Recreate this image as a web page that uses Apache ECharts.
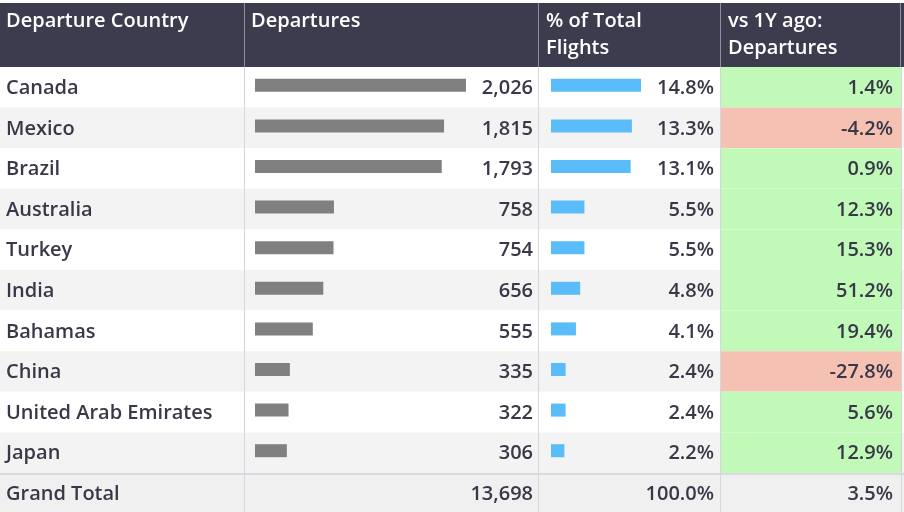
<!DOCTYPE html>
<html>
<head>
<meta charset="utf-8">
<script src="https://cdn.jsdelivr.net/npm/echarts@6/dist/echarts.min.js"></script>
<style>
html, body { margin: 0; padding: 0; background: #fff; }
#myChart { width: 904px; height: 512px; }
</style>
</head>
<body>
<div id="myChart"></div>
<script>
// table data
var countries = ['Canada', 'Mexico', 'Brazil', 'Australia', 'Turkey', 'India', 'Bahamas', 'China', 'United Arab Emirates', 'Japan'];
var departures = [2026, 1815, 1793, 758, 754, 656, 555, 335, 322, 306];
var shareOfTotal = [14.8, 13.3, 13.1, 5.5, 5.5, 4.8, 4.1, 2.4, 2.4, 2.2];
var vsLastYear = [1.4, -4.2, 0.9, 12.3, 15.3, 51.2, 19.4, -27.8, 5.6, 12.9];
var headers = ['Departure Country', 'Departures', '% of Total\nFlights', 'vs 1Y ago:\nDepartures'];
var totalLabel = 'Grand Total';
var totals = [13698, 100.0, 3.5];

var textColor = '#393848';
var bodyFont = '600 20px "Open Sans", sans-serif';
var headFont = '600 20px "Open Sans", sans-serif';

function fmtNum(v) { return v.toLocaleString('en-US'); }
function fmtPct(v) { return v.toFixed(1) + '%'; }

var myChart = echarts.init(document.getElementById('myChart'));

var rowTop = 67, rowsHeight = 406;

var option = {
	animation: false,
	grid: [
		{ left: 0, top: rowTop, width: 904, height: rowsHeight },
		{ left: 255, top: rowTop - 2, width: 211, height: rowsHeight },
		{ left: 551, top: rowTop - 2, width: 90, height: rowsHeight }
	],
	xAxis: [
		{ gridIndex: 0, type: 'value', min: 0, max: 904, show: false },
		{ gridIndex: 1, type: 'value', min: 0, max: 2026, show: false },
		{ gridIndex: 2, type: 'value', min: 0, max: 14.8, show: false }
	],
	yAxis: [
		{ gridIndex: 0, type: 'category', data: countries, inverse: true, show: false },
		{ gridIndex: 1, type: 'category', data: countries, inverse: true, show: false },
		{ gridIndex: 2, type: 'category', data: countries, inverse: true, show: false }
	],
	series: [
		{
			// row cells: backgrounds and texts
			type: 'custom',
			xAxisIndex: 0,
			yAxisIndex: 0,
			z: 1,
			data: countries.map(function (c, i) { return [0, i]; }),
			renderItem: function (params, api) {
				var i = params.dataIndex;
				var yc = api.coord([0, i])[1];
				var h = api.size([0, 1])[1];
				var y0 = yc - h / 2;
				var ty = yc + 1;
				var yoy = vsLastYear[i];
				return {
					type: 'group',
					children: [
						{ type: 'rect', shape: { x: 0, y: y0, width: 904, height: h },
						  style: { fill: i % 2 ? '#f3f3f3' : '#ffffff' } },
						{ type: 'rect', shape: { x: 721, y: y0, width: 180, height: h },
						  style: { fill: yoy < 0 ? '#f5c1b3' : '#c1f9b8' } },
						{ type: 'text', x: 6, y: ty, style: { text: countries[i], fill: textColor,
						  font: bodyFont, verticalAlign: 'middle', align: 'left' } },
						{ type: 'text', x: 533, y: ty, style: { text: fmtNum(departures[i]), fill: textColor,
						  font: bodyFont, verticalAlign: 'middle', align: 'right' } },
						{ type: 'text', x: 714, y: ty, style: { text: fmtPct(shareOfTotal[i]), fill: textColor,
						  font: bodyFont, verticalAlign: 'middle', align: 'right' } },
						{ type: 'text', x: 893, y: ty, style: { text: fmtPct(yoy), fill: textColor,
						  font: bodyFont, verticalAlign: 'middle', align: 'right' } }
					]
				};
			}
		},
		{
			name: 'Departures',
			type: 'bar',
			xAxisIndex: 1,
			yAxisIndex: 1,
			z: 3,
			barWidth: 13,
			itemStyle: { color: '#808080' },
			data: departures
		},
		{
			name: '% of Total Flights',
			type: 'bar',
			xAxisIndex: 2,
			yAxisIndex: 2,
			z: 3,
			barWidth: 13,
			itemStyle: { color: '#5abcf8' },
			data: shareOfTotal
		}
	],
	graphic: [
		// header
		{ type: 'rect', z: 5, shape: { x: 0, y: 3, width: 904, height: 64 }, style: { fill: '#3d3c4f' } },
		{ type: 'text', z: 6, x: 6, y: 8, style: { text: headers[0], fill: '#fff', font: headFont, lineHeight: 27 } },
		{ type: 'text', z: 6, x: 251, y: 8, style: { text: headers[1], fill: '#fff', font: headFont, lineHeight: 27 } },
		{ type: 'text', z: 6, x: 546, y: 8, style: { text: headers[2], fill: '#fff', font: headFont, lineHeight: 27 } },
		{ type: 'text', z: 6, x: 728, y: 8, style: { text: headers[3], fill: '#fff', font: headFont, lineHeight: 27 } },
		// sort icon
		{ type: 'group', z: 6, x: 514, y: 9, children: [
			{ type: 'line', shape: { x1: 4, y1: 3, x2: 4, y2: 13 }, style: { stroke: '#5d5c6e', lineWidth: 1.5 } },
			{ type: 'polyline', shape: { points: [[1, 10], [4, 13], [7, 10]] }, style: { stroke: '#5d5c6e', lineWidth: 1.5, fill: null } },
			{ type: 'line', shape: { x1: 9, y1: 3, x2: 19, y2: 3 }, style: { stroke: '#5d5c6e', lineWidth: 1.5 } },
			{ type: 'line', shape: { x1: 9, y1: 7, x2: 17, y2: 7 }, style: { stroke: '#5d5c6e', lineWidth: 1.5 } },
			{ type: 'line', shape: { x1: 9, y1: 11, x2: 15, y2: 11 }, style: { stroke: '#5d5c6e', lineWidth: 1.5 } }
		] },
		// grand total row
		{ type: 'rect', z: 5, shape: { x: 0, y: 473, width: 904, height: 39 }, style: { fill: '#f0f0f0' } },
		{ type: 'rect', z: 6, shape: { x: 0, y: 473, width: 904, height: 2 }, style: { fill: '#d9d9e0' } },
		{ type: 'text', z: 6, x: 6, y: 494, style: { text: totalLabel, fill: textColor, font: bodyFont, verticalAlign: 'middle' } },
		{ type: 'text', z: 6, x: 533, y: 494, style: { text: fmtNum(totals[0]), fill: textColor, font: bodyFont, verticalAlign: 'middle', align: 'right' } },
		{ type: 'text', z: 6, x: 714, y: 494, style: { text: fmtPct(totals[1]), fill: textColor, font: bodyFont, verticalAlign: 'middle', align: 'right' } },
		{ type: 'text', z: 6, x: 893, y: 494, style: { text: fmtPct(totals[2]), fill: textColor, font: bodyFont, verticalAlign: 'middle', align: 'right' } },
		// column separators
		{ type: 'line', z: 7, shape: { x1: 244.5, y1: 3, x2: 244.5, y2: 67 }, style: { stroke: '#8e8d9c', lineWidth: 1 } },
		{ type: 'line', z: 7, shape: { x1: 538.5, y1: 3, x2: 538.5, y2: 67 }, style: { stroke: '#8e8d9c', lineWidth: 1 } },
		{ type: 'line', z: 7, shape: { x1: 720.5, y1: 3, x2: 720.5, y2: 67 }, style: { stroke: '#8e8d9c', lineWidth: 1 } },
		{ type: 'line', z: 7, shape: { x1: 900.5, y1: 3, x2: 900.5, y2: 67 }, style: { stroke: '#8e8d9c', lineWidth: 1 } },
		{ type: 'line', z: 7, shape: { x1: 244.5, y1: 67, x2: 244.5, y2: 512 }, style: { stroke: '#d5d5dd', lineWidth: 1 } },
		{ type: 'line', z: 7, shape: { x1: 538.5, y1: 67, x2: 538.5, y2: 512 }, style: { stroke: '#d5d5dd', lineWidth: 1 } },
		{ type: 'line', z: 7, shape: { x1: 720.5, y1: 67, x2: 720.5, y2: 512 }, style: { stroke: '#d5d5dd', lineWidth: 1 } },
		{ type: 'line', z: 7, shape: { x1: 901.5, y1: 67, x2: 901.5, y2: 512 }, style: { stroke: '#d5d5dd', lineWidth: 1 } }
	]
};

myChart.setOption(option);
</script>
</body>
</html>
